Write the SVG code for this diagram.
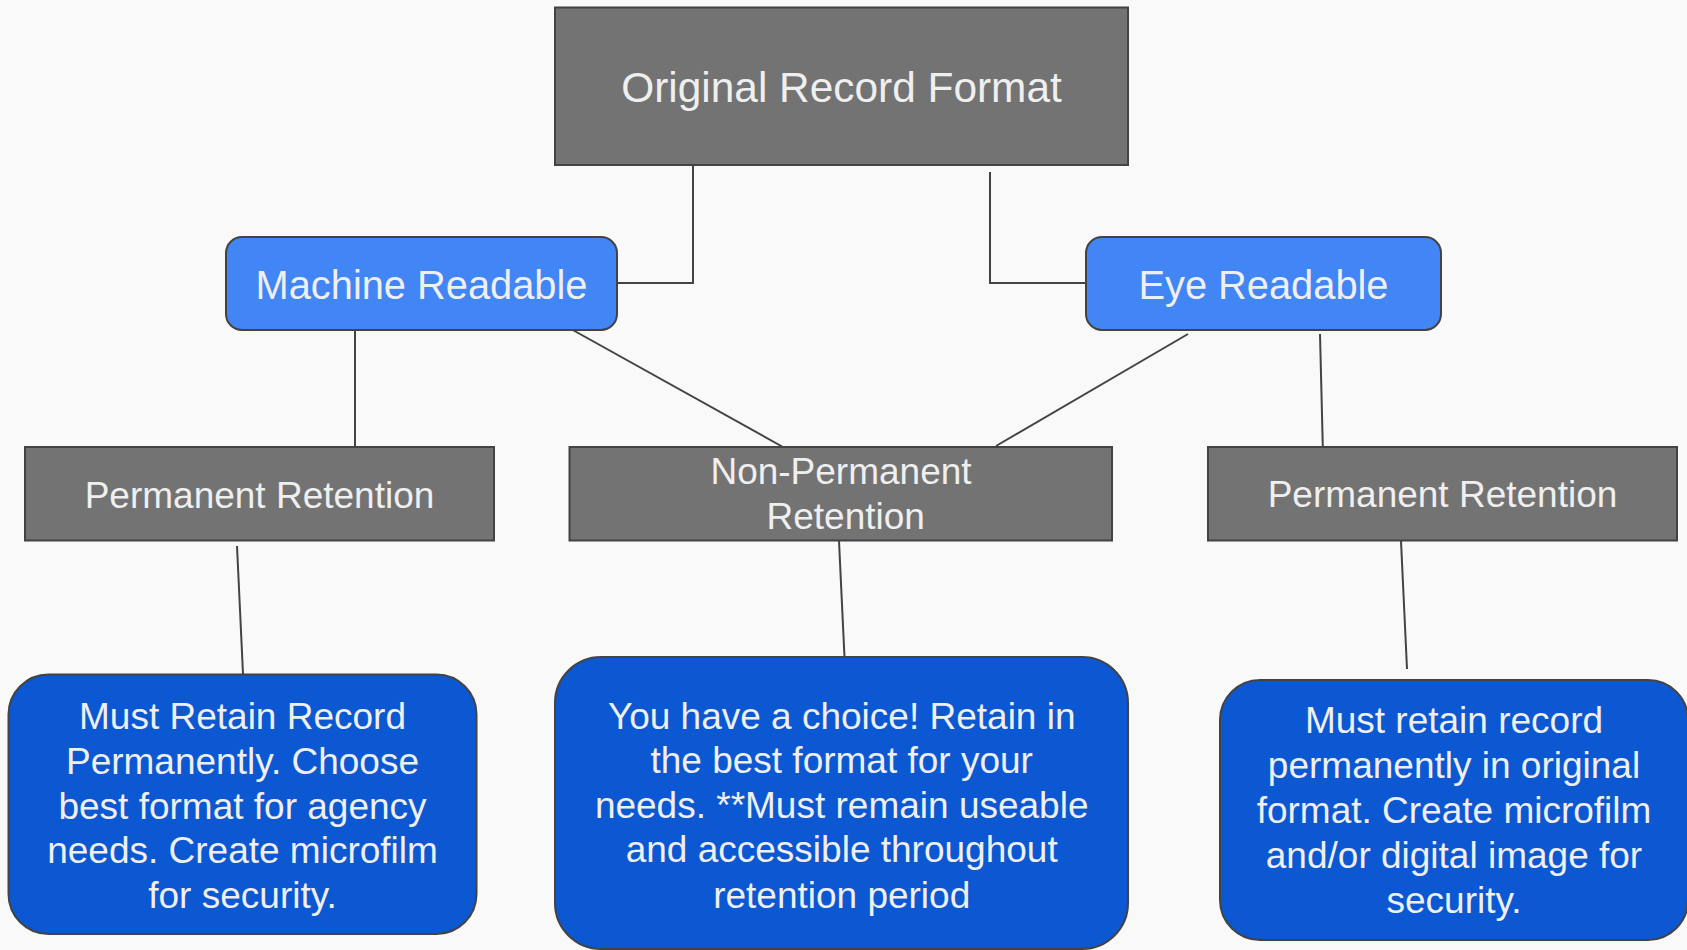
<svg xmlns="http://www.w3.org/2000/svg" width="1687" height="950" viewBox="0 0 1687 950">
<style>
.gray{fill:#737373;stroke:#434343;stroke-width:2}
.lblue{fill:#4285f4;stroke:#434343;stroke-width:2}
.dblue{fill:#0c58d2;stroke:#434343;stroke-width:2}
.t{font-family:"Liberation Sans",Arial,sans-serif;fill:#efefef;text-anchor:middle}
.conn{fill:none;stroke:#434343;stroke-width:2}
</style>
<rect width="1687" height="950" fill="#f9f9f9"/>
<g id="connectors">
<polyline class="conn" points="617,283 693,283 693,162.5 770,162.5"/>
<polyline class="conn" points="990,172 990,283 1086,283"/>
<line class="conn" x1="355" y1="328" x2="355" y2="447"/>
<line class="conn" x1="571" y1="329" x2="792" y2="452"/>
<line class="conn" x1="1188" y1="334" x2="996" y2="446"/>
<line class="conn" x1="1320" y1="334" x2="1323" y2="455"/>
<line class="conn" x1="237" y1="546" x2="243" y2="674"/>
<line class="conn" x1="839" y1="541" x2="845" y2="668"/>
<line class="conn" x1="1401" y1="541" x2="1407" y2="669"/>
</g>
<g id="original">
<rect class="gray" x="555" y="7.5" width="573" height="157.5"/>
<text class="t" x="841.5" y="101.5" font-size="42.4">Original Record Format</text>
</g>
<g id="machine">
<rect class="lblue" x="226" y="237" width="391" height="93" rx="16"/>
<text class="t" x="421.5" y="299" font-size="39.8">Machine Readable</text>
</g>
<g id="eye">
<rect class="lblue" x="1086" y="237" width="355" height="93" rx="16"/>
<text class="t" x="1263.5" y="299" font-size="39.8">Eye Readable</text>
</g>
<g id="perm-left">
<rect class="gray" x="25" y="447" width="469" height="93.5"/>
<text class="t" x="259.5" y="508" font-size="37">Permanent Retention</text>
</g>
<g id="nonperm">
<rect class="gray" x="569.5" y="447" width="542.5" height="93.5"/>
<text class="t" font-size="37"><tspan x="841" y="484.3">Non-Permanent</tspan><tspan x="845.7" y="529.3">Retention</tspan></text>
</g>
<g id="perm-right">
<rect class="gray" x="1208" y="447" width="469" height="93.5"/>
<text class="t" x="1442.5" y="507" font-size="37">Permanent Retention</text>
</g>
<g id="desc-left">
<rect class="dblue" x="8.5" y="674.5" width="468" height="259.5" rx="40"/>
<text class="t" font-size="37"><tspan x="242.5" y="729">Must Retain Record</tspan><tspan x="242.5" y="774">Permanently. Choose</tspan><tspan x="242.5" y="819">best format for agency</tspan><tspan x="242.5" y="863">needs. Create microfilm</tspan><tspan x="242.5" y="908">for security.</tspan></text>
</g>
<g id="desc-middle">
<rect class="dblue" x="555" y="657" width="573" height="292" rx="46"/>
<text class="t" font-size="37"><tspan x="841.7" y="729">You have a choice! Retain in</tspan><tspan x="841.7" y="773">the best format for your</tspan><tspan x="841.7" y="818">needs. **Must remain useable</tspan><tspan x="841.7" y="862">and accessible throughout</tspan><tspan x="841.7" y="908">retention period</tspan></text>
</g>
<g id="desc-right">
<rect class="dblue" x="1220" y="680" width="468" height="260" rx="40"/>
<text class="t" font-size="37"><tspan x="1454" y="733">Must retain record</tspan><tspan x="1454" y="778">permanently in original</tspan><tspan x="1454" y="823">format. Create microfilm</tspan><tspan x="1454" y="868">and/or digital image for</tspan><tspan x="1454" y="913">security.</tspan></text>
</g>
</svg>
